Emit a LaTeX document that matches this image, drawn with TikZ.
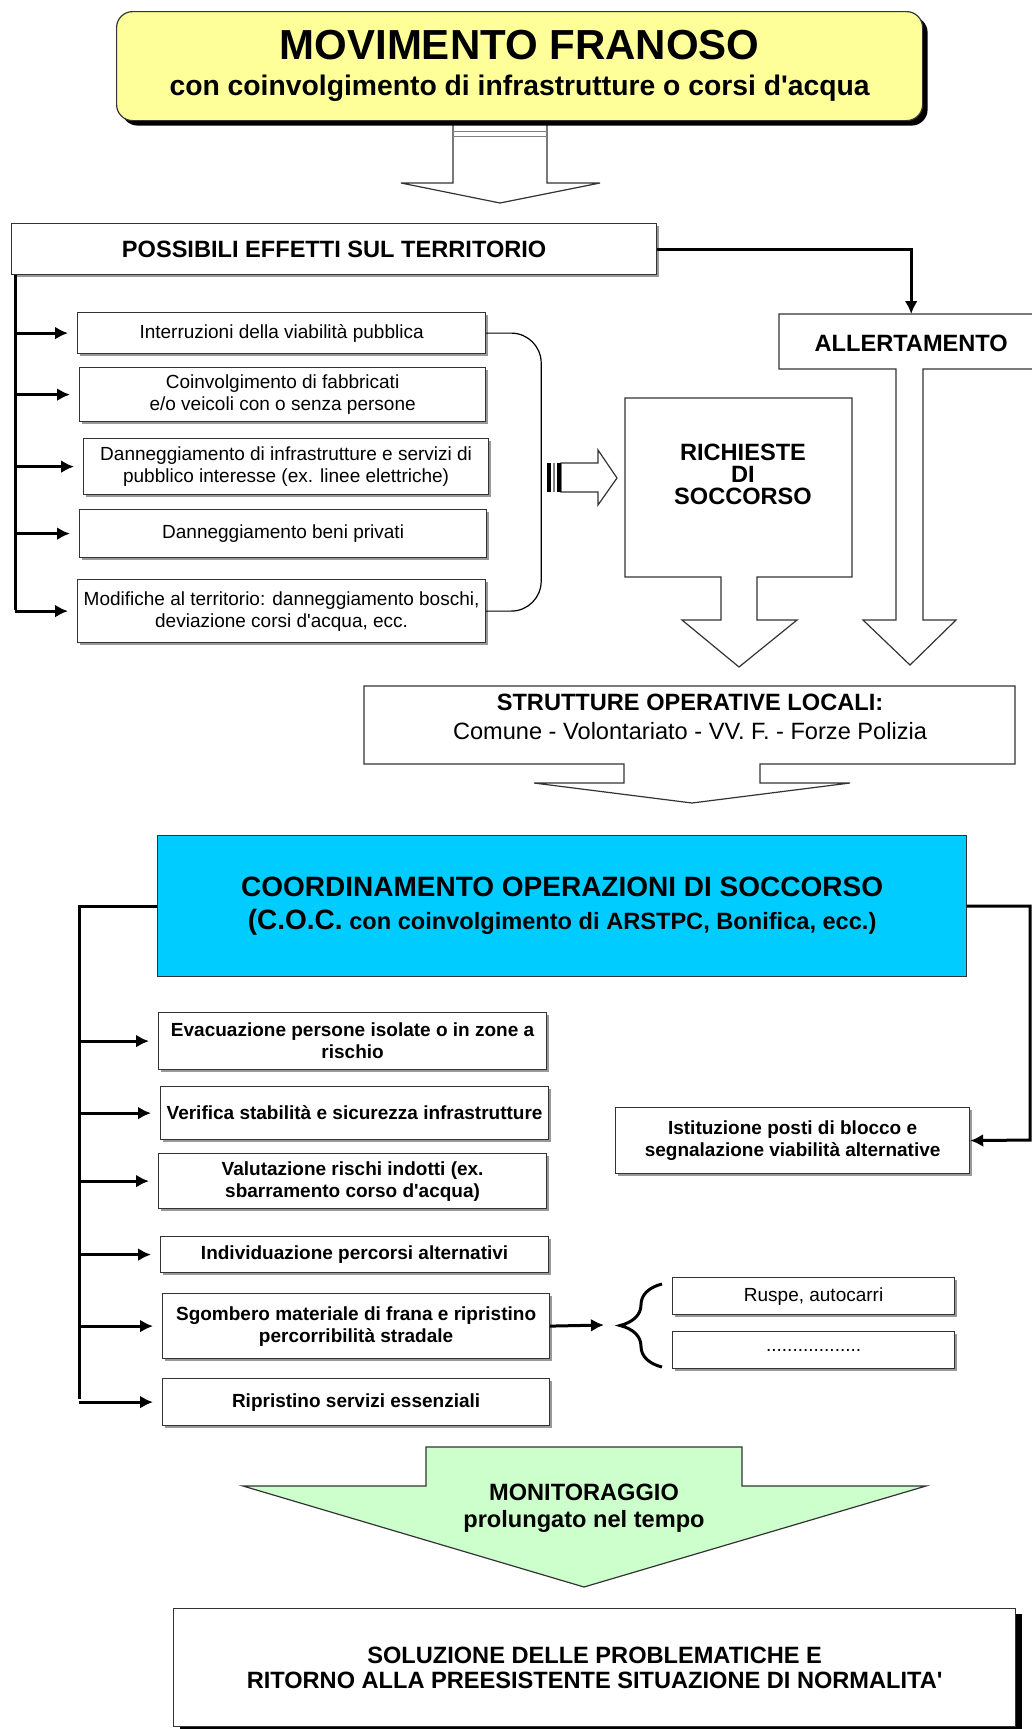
\documentclass[tikz,border=0pt]{standalone}
\usepackage{fontspec}
\setmainfont{Liberation Sans}
\usetikzlibrary{arrows.meta,shadows,decorations.pathreplacing}

\definecolor{giallo}{RGB}{255,255,153}
\definecolor{azzurro}{RGB}{0,204,255}
\definecolor{verdino}{RGB}{204,255,204}
\newcommand{\apo}{\textquotesingle}

\begin{document}
\begin{tikzpicture}[x=1pt, y=-1pt,
  riquadro/.style={draw=black!80, line width=1.2pt, fill=white, anchor=north west, align=center, inner sep=2pt},
  casella/.style={riquadro, drop shadow={shadow xshift=2pt, shadow yshift=-2pt, fill=black!40, opacity=1}},
  testo/.style={align=center, inner sep=0pt},
  piccolo/.style={font=\fontsize{19}{22}\selectfont},
  piccolob/.style={font=\bfseries\fontsize{19}{22}\selectfont},
  medio/.style={font=\bfseries\fontsize{23.6}{26}\selectfont},
  blocco/.style={draw=black!80, line width=1.2pt, fill=white},
  collega/.style={line width=3pt},
  punta/.style={collega, -{Latex[length=13pt,width=13pt]}},
  freccia/.style={punta, shorten >=9pt}
]
\useasboundingbox (0,0) rectangle (1032,1729);

\draw[blocco] (453,124) -- (453,183) -- (401,183) -- (500,203) -- (600,183) -- (547,183) -- (547,124);
\draw[black!50, line width=1pt] (453,131) -- (547,131) (453,136) -- (547,136);
\node[riquadro, fill=giallo, rounded corners=16pt, minimum width=806pt, minimum height=109pt,
      drop shadow={shadow xshift=5pt, shadow yshift=-5pt, fill=black, opacity=1},
      font=\bfseries\fontsize{28.3}{36}\selectfont] (titolo) at (116,11)
  {{\fontsize{42}{42}\selectfont MOVIMENTO FRANOSO}\\con coinvolgimento di infrastrutture o corsi d\apo acqua};

\node[casella, medio, minimum width=645pt, minimum height=51pt] (effetti) at (11,223) {POSSIBILI EFFETTI SUL TERRITORIO};
\node[casella, piccolo, minimum width=408pt, minimum height=41pt] (e1) at (77,312) {Interruzioni della viabilità pubblica};
\node[casella, piccolo, minimum width=406pt, minimum height=54pt] (e2) at (79,367) {Coinvolgimento di fabbricati\\e/o veicoli con o senza persone};
\node[casella, piccolo, minimum width=405pt, minimum height=56pt] (e3) at (83,438) {Danneggiamento di infrastrutture e servizi di\\pubblico interesse (ex. linee elettriche)};
\node[casella, piccolo, minimum width=407pt, minimum height=48pt] (e4) at (79,509) {Danneggiamento beni privati};
\node[casella, piccolo, minimum width=408pt, minimum height=63pt] (e5) at (77,579) {Modifiche al territorio: danneggiamento boschi,\\deviazione corsi d\apo acqua, ecc.};
\coordinate (tronco) at (15,610);
\draw[collega] (tronco |- effetti.south) -- (tronco);
\foreach \e in {e1,e2,e3,e4,e5}
  \draw[freccia] (tronco |- \e.west) -- (\e.west);
\draw[line width=1.2pt, rounded corners=30pt] (e1.east) -- ++(55,0) |- (e5.east);

\draw[blocco] (561,463) -- (598,463) -- (598,450) -- (617,478) -- (598,505) -- (598,492) -- (561,492) -- cycle;
\fill (547,463) rectangle (551,492);
\fill[black!50] (553,463) rectangle (555,492);
\fill (557,463) rectangle (561,492);

\draw[blocco] (625,398) -- (852,398) -- (852,577) -- (757,577) -- (757,620) -- (797,620) -- (739,667)
  -- (682,620) -- (721,620) -- (721,577) -- (625,577) -- cycle;
\node[testo, font=\bfseries\fontsize{23.6}{22}\selectfont] (richieste) at (743,474) {RICHIESTE\\DI\\SOCCORSO};

\draw[blocco] (1032,314) -- (779,314) -- (779,369) -- (896,369) -- (896,620) -- (863,620) -- (910,665)
  -- (956,620) -- (923,620) -- (923,369) -- (1032,369);
\node[testo, medio, anchor=north west, minimum width=252pt, minimum height=58pt] (allerta) at (785,314) {ALLERTAMENTO};
\draw[punta] (effetti.east) -| (allerta.north);

\draw[blocco] (364,686) -- (1015,686) -- (1015,764) -- (760,764) -- (760,783) -- (850,783) -- (692,803)
  -- (534,783) -- (624,783) -- (624,764) -- (364,764) -- cycle;
\node[testo, font=\fontsize{23.6}{29}\selectfont] (strutture) at (690,716.5)
  {\textbf{STRUTTURE OPERATIVE LOCALI:}\\Comune - Volontariato - VV. F. - Forze Polizia};

\node[riquadro, fill=azzurro, minimum width=809pt, minimum height=141pt,
      font=\bfseries\fontsize{23.6}{33}\selectfont] (coc) at (157,835)
  {{\fontsize{28}{28}\selectfont COORDINAMENTO OPERAZIONI DI SOCCORSO}\\{\fontsize{28}{28}\selectfont (C.O.C.} con coinvolgimento di ARSTPC, Bonifica, ecc.)};

\node[casella, piccolob, minimum width=388pt, minimum height=57pt] (a1) at (158,1012) {Evacuazione persone isolate o in zone a\\rischio};
\node[casella, piccolob, minimum width=388pt, minimum height=53pt] (a2) at (160,1086) {Verifica stabilità e sicurezza infrastrutture};
\node[casella, piccolob, minimum width=388pt, minimum height=55pt] (a3) at (158,1153) {Valutazione rischi indotti (ex.\\sbarramento corso d\apo acqua)};
\node[casella, piccolob, minimum width=388pt, minimum height=36pt] (a4) at (160,1236) {Individuazione percorsi alternativi};
\node[casella, piccolob, minimum width=387pt, minimum height=65pt] (a5) at (162,1293) {Sgombero materiale di frana e ripristino\\percorribilità stradale};
\node[casella, piccolob, minimum width=387pt, minimum height=47pt] (a6) at (162,1378) {Ripristino servizi essenziali};
\coordinate (tronco2) at (79,1399);
\draw[collega] (coc.west) -| (tronco2);
\foreach \a in {a1,a2,a3,a4,a5,a6}
  \draw[freccia] (tronco2 |- \a.west) -- (\a.west);

\node[casella, piccolob, minimum width=354pt, minimum height=66pt] (posti) at (615,1107) {Istituzione posti di blocco e\\segnalazione viabilità alternative};
\coordinate (destra) at (1030,1140);
\draw[punta] (coc.east) -| (destra) -- (posti.east);

\coordinate (graffa) at (604,1325);
\draw[punta] (a5.east) -- (graffa);
\draw[collega, decorate, decoration={brace, amplitude=42pt}] (662,1367) -- (662,1284);
\node[casella, piccolo, minimum width=282pt, minimum height=37pt] (ruspe) at (672,1277) {Ruspe, autocarri};
\node[casella, piccolo, minimum width=282pt, minimum height=37pt] (altro) at (672,1331) {..................};

\draw[blocco, fill=verdino] (426,1447) -- (742,1447) -- (742,1486) -- (926,1486) -- (584,1587) -- (243,1486) -- (426,1486) -- cycle;
\node[testo, font=\bfseries\fontsize{23.6}{27}\selectfont] (monit) at (584,1508) {MONITORAGGIO\\prolungato nel tempo};

\node[riquadro, minimum width=842pt, minimum height=118pt,
      drop shadow={shadow xshift=6pt, shadow yshift=-5pt, fill=black, opacity=1},
      font=\bfseries\fontsize{23.6}{25}\selectfont] (soluzione) at (173,1608)
  {SOLUZIONE DELLE PROBLEMATICHE E\\RITORNO ALLA PREESISTENTE SITUAZIONE DI NORMALITA\apo};
\end{tikzpicture}
\end{document}
